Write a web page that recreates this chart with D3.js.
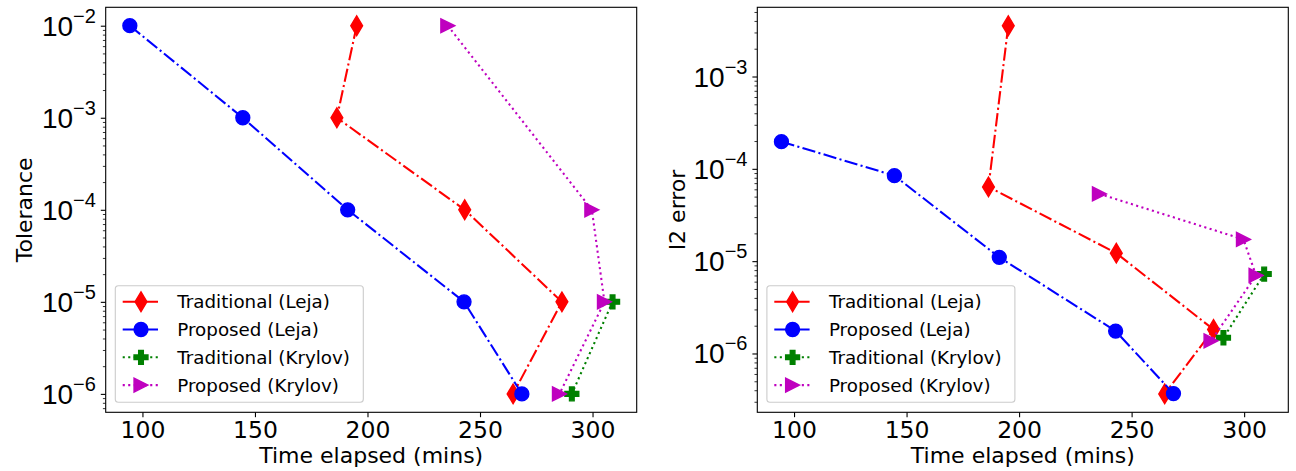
<!DOCTYPE html>
<html>
<head>
<meta charset="utf-8">
<script src="https://cdn.jsdelivr.net/npm/d3@7"></script>
<style>
  body { margin: 0; background: #fff; }
  svg { font-family: "DejaVu Sans", sans-serif; }
  .axis path, .axis line { stroke: #000; }
  .axis text { fill: #000; }
</style>
</head>
<body>
<div id="chart"></div>
<script>
// data
const tolLevels = [1e-2, 1e-3, 1e-4, 1e-5, 1e-6];

const timeTradLeja = [195.2, 186.4, 243.2, 286.4, 264.7];
const tolTradLeja = [1e-2, 1e-3, 1e-4, 1e-5, 1e-6];
const errTradLeja = [3.55e-3, 6.37e-5, 1.22e-5, 1.82e-6, 3.65e-7];

const timePropLeja = [94.4, 144.6, 191.2, 242.9, 268.6];
const tolPropLeja = [1e-2, 1e-3, 1e-4, 1e-5, 1e-6];
const errPropLeja = [1.97e-4, 8.43e-5, 1.10e-5, 1.75e-6, 3.68e-7];

const timeTradKrylov = [308.9, 290.8];
const tolTradKrylov = [1e-5, 1e-6];
const errTradKrylov = [7.24e-6, 1.48e-6];

const timePropKrylov = [235.7, 299.7, 305.3, 285.3];
const tolPropKrylov = [1e-2, 1e-4, 1e-5, 1e-6];
const errPropKrylov = [5.35e-5, 1.72e-5, 7.0e-6, 1.37e-6];

const seriesNames = ["Traditional (Leja)", "Proposed (Leja)", "Traditional (Krylov)", "Proposed (Krylov)"];
const xTicks = [100, 150, 200, 250, 300];
const errTicks = [1e-3, 1e-4, 1e-5, 1e-6];

// styles
const series = [
    { name: seriesNames[0], color: "#ff0000", marker: "thin_diamond", dash: "13.3,3.3,2.1,3.3", t: timeTradLeja, tol: tolTradLeja, err: errTradLeja },
    { name: seriesNames[1], color: "#0000ff", marker: "circle", dash: "13.3,3.3,2.1,3.3", t: timePropLeja, tol: tolPropLeja, err: errPropLeja },
    { name: seriesNames[2], color: "#008000", marker: "plus", dash: "2.1,3.4", t: timeTradKrylov, tol: tolTradKrylov, err: errTradKrylov },
    { name: seriesNames[3], color: "#bf00bf", marker: "tri_right", dash: "2.1,3.4", t: timePropKrylov, tol: tolPropKrylov, err: errPropKrylov }
];

const svgWidth = 1296, svgHeight = 471;
const panelW = 531, panelH = 405;
const panels = [
    { left: 105.7, top: 7.3, ylabel: "Tolerance", key: "tol", ticks: tolLevels },
    { left: 757.3, top: 7.3, ylabel: "l2 error", key: "err", ticks: errTicks }
];

const msize = 13.9;

let svg = d3.select("#chart").append("svg")
    .attr("width", svgWidth)
    .attr("height", svgHeight);

function markerPath(type, s) {
    let p = d3.path();
    if (type === "circle") {
        p.arc(0, 0, s / 2, 0, 2 * Math.PI);
    } else if (type === "thin_diamond") {
        let h = s * Math.SQRT1_2, w = 0.6 * h;
        p.moveTo(0, -h); p.lineTo(w, 0); p.lineTo(0, h); p.lineTo(-w, 0); p.closePath();
    } else if (type === "tri_right") {
        p.moveTo(s / 2, 0); p.lineTo(-s / 2, -s / 2); p.lineTo(-s / 2, s / 2); p.closePath();
    } else if (type === "plus") {
        let a = s / 2, b = s / 6;
        p.moveTo(-b, -a); p.lineTo(b, -a); p.lineTo(b, -b); p.lineTo(a, -b); p.lineTo(a, b);
        p.lineTo(b, b); p.lineTo(b, a); p.lineTo(-b, a); p.lineTo(-b, b); p.lineTo(-a, b);
        p.lineTo(-a, -b); p.lineTo(-b, -b); p.closePath();
    }
    return p.toString();
}

function padLog(vals) {
    let lo = Math.log10(d3.min(vals)), hi = Math.log10(d3.max(vals));
    let m = (hi - lo) * 0.05;
    return [Math.pow(10, lo - m), Math.pow(10, hi + m)];
}

const allTimes = [].concat(timeTradLeja, timePropLeja, timeTradKrylov, timePropKrylov);
const tMin = d3.min(allTimes), tMax = d3.max(allTimes);
const tPad = (tMax - tMin) * 0.05;

panels.forEach((pn) => {
    let g = svg.append("g").attr("transform", `translate(${pn.left},${pn.top})`);

    let xScale = d3.scaleLinear()
        .domain([tMin - tPad, tMax + tPad])
        .range([0, panelW]);

    let yVals = [].concat(...series.map((s) => s[pn.key]));
    let yScale = d3.scaleLog()
        .domain(padLog(yVals))
        .range([panelH, 0]);

    // minor y ticks
    let [y0, y1] = yScale.domain();
    let minor = yScale.ticks().filter((v) => v >= y0 && v <= y1 &&
        Math.abs(Math.log10(v) - Math.round(Math.log10(v))) > 1e-9);

    g.append("g")
        .attr("class", "axis")
        .call(d3.axisLeft(yScale).tickValues(minor).tickSize(2.8).tickFormat(""))
        .call((a) => a.select(".domain").remove())
        .selectAll("line").attr("stroke-width", 0.8);

    let yAxis = g.append("g")
        .attr("class", "axis")
        .call(d3.axisLeft(yScale).tickValues(pn.ticks).tickSize(4.9).tickFormat(""));
    yAxis.select(".domain").remove();
    yAxis.selectAll("line").attr("stroke-width", 1.1);
    yAxis.selectAll(".tick").each(function (d) {
        let e = Math.round(Math.log10(d));
        let t = d3.select(this).append("text")
            .attr("x", -9.8)
            .attr("y", 9.5)
            .attr("text-anchor", "end")
            .attr("font-size", 28);
        t.append("tspan").text("10");
        t.append("tspan")
            .attr("font-size", 20)
            .attr("dy", -13)
            .text("\u2212" + Math.abs(e));
    });

    let xAxis = g.append("g")
        .attr("class", "axis")
        .attr("transform", `translate(0,${panelH})`)
        .call(d3.axisBottom(xScale).tickValues(xTicks).tickSize(4.9).tickPadding(4));
    xAxis.select(".domain").remove();
    xAxis.selectAll("line").attr("stroke-width", 1.1);
    xAxis.selectAll("text").attr("font-size", 23.5).attr("font-family", "DejaVu Sans");

    // axis labels
    g.append("text")
        .attr("x", panelW / 2)
        .attr("y", panelH + 50.4)
        .attr("text-anchor", "middle")
        .attr("font-size", 22)
        .text("Time elapsed (mins)");
    g.append("text")
        .attr("transform", `translate(${pn.key === "tol" ? -74 : -72},${panelH / 2}) rotate(-90)`)
        .attr("text-anchor", "middle")
        .attr("font-size", 22)
        .text(pn.ylabel);

    // series
    let line = d3.line().x((d) => xScale(d[0])).y((d) => yScale(d[1]));
    series.forEach((s) => {
        let pts = s.t.map((v, i) => [v, s[pn.key][i]]);
        g.append("path")
            .datum(pts)
            .attr("d", line)
            .attr("fill", "none")
            .attr("stroke", s.color)
            .attr("stroke-width", 2.08)
            .attr("stroke-dasharray", s.dash);
        g.selectAll(null)
            .data(pts)
            .join("path")
            .attr("transform", (d) => `translate(${xScale(d[0])},${yScale(d[1])})`)
            .attr("d", markerPath(s.marker, msize))
            .attr("fill", s.color)
            .attr("stroke", s.color)
            .attr("stroke-width", 1.4);
    });

    // frame
    g.append("rect")
        .attr("width", panelW)
        .attr("height", panelH)
        .attr("fill", "none")
        .attr("stroke", "#000")
        .attr("stroke-width", 1.1);

    // legend
    let leg = g.append("g").attr("transform", "translate(9.6,278.4)");
    leg.append("rect")
        .attr("width", 248)
        .attr("height", 116.6)
        .attr("rx", 3)
        .attr("fill", "#fff")
        .attr("fill-opacity", 0.8)
        .attr("stroke", "#cccccc")
        .attr("stroke-width", 1.1);
    series.forEach((s, i) => {
        let yy = 16 + i * 27.8;
        leg.append("line")
            .attr("x1", 7.4).attr("x2", 44.7)
            .attr("y1", yy).attr("y2", yy)
            .attr("stroke", s.color)
            .attr("stroke-width", 2.08)
            .attr("stroke-dasharray", s.dash);
        leg.append("path")
            .attr("transform", `translate(25.7,${yy})`)
            .attr("d", markerPath(s.marker, msize))
            .attr("fill", s.color)
            .attr("stroke", s.color)
            .attr("stroke-width", 1.4);
        leg.append("text")
            .attr("x", 62)
            .attr("y", yy + 6.6)
            .attr("font-size", 18.3)
            .text(s.name);
    });
});
</script>
</body>
</html>
